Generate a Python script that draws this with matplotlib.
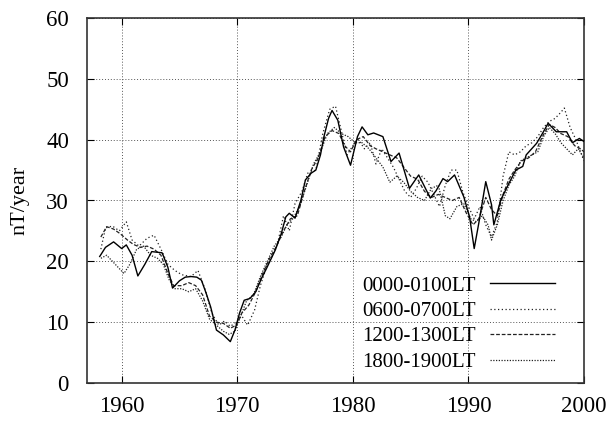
import matplotlib
matplotlib.use('Agg')
import matplotlib.pyplot as plt

plt.rcParams['font.family'] = ['Liberation Serif', 'DejaVu Serif']

# ── data ──
yr_a = [1958.1, 1958.6, 1959.3, 1960.0, 1960.4, 1960.9, 1961.4, 1962.0, 1962.6, 1963.5,
        1964.0, 1964.4, 1965.0, 1965.5, 1966.0, 1966.5, 1966.9, 1967.3, 1967.7, 1968.2,
        1968.8, 1969.4, 1969.8, 1970.2, 1970.6, 1971.1, 1971.6, 1972.1, 1972.6, 1973.3,
        1973.8, 1974.2, 1974.5, 1975.0, 1975.5, 1975.9, 1976.4, 1976.8, 1977.2, 1977.5,
        1977.9, 1978.2, 1978.7, 1979.2, 1979.8, 1980.4, 1980.8, 1981.3, 1981.8, 1982.6,
        1983.3, 1984.0, 1984.9, 1985.7, 1986.7, 1987.2, 1987.8, 1988.2, 1988.8, 1989.6,
        1990.1, 1990.5, 1990.9, 1991.5, 1992.0, 1992.2, 1992.8, 1993.5, 1994.1, 1994.7,
        1995.0, 1995.9, 1996.4, 1996.9, 1997.6, 1998.5, 1999.0, 1999.6, 2000.0]
lt00 = [20.8, 22.3, 23.2, 22.1, 22.7, 21.0, 17.6, 19.5, 21.6, 21.4,
        19.0, 15.6, 16.8, 17.4, 17.5, 17.4, 16.9, 14.8, 12.5, 8.7,
        7.9, 6.8, 8.7, 11.5, 13.6, 13.9, 15.0, 17.2, 19.1, 21.9,
        24.5, 27.3, 27.9, 27.1, 30.0, 33.4, 34.5, 35.0, 37.5, 40.5,
        43.5, 44.8, 43.2, 38.8, 35.8, 40.5, 42.1, 40.8, 41.1, 40.5,
        36.4, 37.8, 32.0, 34.2, 30.4, 31.6, 33.6, 33.1, 34.2, 30.6,
        27.3, 22.1, 26.3, 33.1, 29.3, 26.0, 30.1, 32.8, 35.0, 35.6,
        37.5, 39.4, 41.0, 42.7, 41.3, 41.3, 39.5, 40.2, 39.7]

yr_b = [1958.2, 1958.6, 1959.2, 1959.8, 1960.4, 1960.9, 1961.5, 1962.2, 1962.8, 1963.4,
        1964.0, 1964.6, 1965.2, 1966.0, 1966.6, 1967.2, 1967.8, 1968.4, 1968.9, 1969.4,
        1969.9, 1970.4, 1970.9, 1971.5, 1972.0, 1972.6, 1973.0, 1973.5, 1974.0, 1974.5,
        1975.0, 1975.6, 1976.1, 1976.8, 1977.4, 1978.0, 1978.5, 1979.0, 1979.5, 1980.0,
        1980.5, 1981.0, 1981.5, 1982.0, 1982.5, 1983.0, 1983.5, 1984.0, 1984.5, 1985.0,
        1985.5, 1986.0, 1986.5, 1987.0, 1987.5, 1988.0, 1988.5, 1989.0, 1989.5, 1990.0,
        1990.5, 1991.0, 1991.5, 1992.0, 1992.5, 1993.0, 1993.5, 1994.0, 1994.5, 1995.0,
        1995.5, 1996.0, 1996.5, 1997.0, 1997.5, 1998.0, 1998.3, 1998.8, 1999.3, 1999.7,
        2000.0]
lt06 = [22.0, 25.5, 25.8, 25.0, 26.5, 23.5, 22.5, 23.8, 24.3, 22.0,
        19.5, 18.5, 17.8, 17.5, 18.5, 15.5, 11.5, 9.5, 10.2, 9.3,
        10.0, 11.0, 9.5, 12.0, 16.0, 19.5, 20.8, 23.0, 27.5, 25.0,
        29.5, 31.5, 34.5, 35.0, 41.0, 45.0, 45.5, 41.5, 37.5, 39.0,
        40.0, 38.5, 39.5, 36.0, 38.5, 37.0, 35.5, 33.5, 31.5, 30.5,
        32.0, 34.0, 33.0, 31.0, 29.0, 32.5, 35.0, 35.0, 31.5, 29.0,
        27.0, 29.0, 26.0, 24.0, 26.5, 34.0, 38.0, 37.5, 38.0, 39.0,
        39.5, 40.5, 42.0, 43.0, 43.5, 44.5, 45.2, 42.0, 40.0, 38.0,
        36.5]

yr_c = [1958.2, 1958.7, 1959.3, 1959.9, 1960.5, 1961.0, 1961.6, 1962.2, 1962.8, 1963.4,
        1964.0, 1964.5, 1965.2, 1965.8, 1966.4, 1967.0, 1967.6, 1968.2, 1968.8, 1969.4,
        1969.9, 1970.4, 1971.0, 1971.6, 1972.2, 1972.8, 1973.4, 1974.0, 1974.6, 1975.2,
        1975.8, 1976.4, 1977.0, 1977.6, 1978.2, 1978.8, 1979.3, 1979.8, 1980.3, 1980.9,
        1981.5, 1982.0, 1982.6, 1983.2, 1983.8, 1984.4, 1985.0, 1985.6, 1986.2, 1986.8,
        1987.4, 1988.0, 1988.6, 1989.2, 1989.8, 1990.4, 1990.9, 1991.5, 1992.0, 1992.5,
        1993.0, 1993.5, 1994.0, 1994.6, 1995.2, 1995.8, 1996.4, 1997.0, 1997.5, 1998.0,
        1998.6, 1999.2, 1999.7, 2000.0]
lt12 = [24.0, 25.7, 25.3, 24.5, 23.5, 22.8, 22.3, 22.5, 22.0, 21.0,
        18.0, 16.0, 16.0, 16.5, 16.0, 14.5, 11.0, 10.0, 9.8, 9.0,
        9.5, 11.5, 12.8, 15.0, 18.0, 20.5, 22.5, 25.0, 27.0, 27.5,
        31.5, 35.0, 37.0, 40.5, 41.5, 41.0, 39.0, 38.0, 40.0, 40.5,
        39.0, 38.5, 38.0, 37.5, 37.0, 35.5, 34.0, 33.5, 31.5, 30.5,
        31.0, 30.5, 30.0, 30.5, 28.0, 26.0, 27.0, 30.5, 28.5, 27.5,
        31.0, 33.5, 35.0, 36.5, 37.0, 38.0, 40.5, 42.5, 42.0, 41.0,
        40.5, 39.0, 38.5, 38.0]

yr_d = [1958.2, 1958.7, 1959.2, 1959.7, 1960.2, 1960.7, 1961.3, 1961.9, 1962.5, 1963.1,
        1963.6, 1964.1, 1964.6, 1965.2, 1965.8, 1966.4, 1967.0, 1967.6, 1968.2, 1968.8,
        1969.3, 1969.8, 1970.3, 1970.8, 1971.4, 1972.0, 1972.6, 1973.2, 1973.8, 1974.3,
        1974.8, 1975.4, 1976.0, 1976.6, 1977.2, 1977.8, 1978.4, 1979.0, 1979.6, 1980.2,
        1980.8, 1981.4, 1982.0, 1982.6, 1983.2, 1983.8, 1984.4, 1985.0, 1985.6, 1986.2,
        1986.8, 1987.4, 1988.0, 1988.4, 1989.0, 1989.6, 1990.2, 1990.7, 1991.2, 1991.7,
        1992.0, 1992.5, 1993.0, 1993.5, 1994.0, 1994.5, 1995.0, 1995.5, 1996.0, 1996.5,
        1997.0, 1997.5, 1998.0, 1998.5, 1999.0, 1999.5, 2000.0]
lt18 = [20.5, 21.0, 20.0, 19.0, 18.0, 19.5, 22.0, 22.5, 21.0, 20.5,
        19.5, 17.0, 15.5, 15.5, 15.0, 15.5, 13.5, 10.5, 9.5, 8.5,
        8.0, 8.5, 11.0, 13.5, 14.5, 17.5, 20.0, 22.5, 24.0, 26.0,
        27.0, 29.0, 32.5, 36.0, 38.0, 41.0, 42.0, 41.0, 40.5, 39.5,
        39.5, 38.5, 37.0, 35.5, 33.0, 34.0, 33.0, 31.5, 30.5, 30.0,
        32.0, 32.5, 27.5, 27.0, 29.0, 29.5, 27.0, 26.5, 27.5, 26.0,
        23.5, 26.0, 30.0, 32.5, 34.0, 36.5, 37.0, 37.5, 38.0, 40.5,
        42.0, 41.0, 39.5, 38.5, 37.5, 38.5, 37.0]

labels = ['0000-0100LT', '0600-0700LT', '1200-1300LT', '1800-1900LT']
x_ticks = [1960, 1970, 1980, 1990, 2000]
y_ticks = [0, 10, 20, 30, 40, 50, 60]

fig = plt.figure(figsize=(6.11, 4.23), dpi=100)
ax = fig.add_axes([87 / 611, 40 / 423, 497 / 611, 365 / 423])

ax.plot(yr_a, lt00, color='black', lw=1.0, ls='-', label=labels[0], zorder=5)
ax.plot(yr_b, lt06, color='#222222', lw=0.9, ls=(0, (1, 2)), label=labels[1], zorder=4)
ax.plot(yr_c, lt12, color='#222222', lw=0.9, ls=(0, (3, 1.5)), label=labels[2], zorder=4)
ax.plot(yr_d, lt18, color='#222222', lw=0.9, ls=(0, (1, 1.2)), label=labels[3], zorder=4)

ax.set_xlim(1957, 2000)
ax.set_ylim(0, 60)
ax.set_xticks(x_ticks)
ax.set_yticks(y_ticks)
ax.tick_params(direction='in', length=5, width=0.8, top=True, right=True,
               labelsize=16.5, colors='black')
ax.tick_params(axis='y', pad=13)
ax.tick_params(axis='x', pad=9)
ax.grid(True, color='#555555', ls=(0, (1, 2)), lw=0.7)
for s in ax.spines.values():
    s.set_linewidth(1.2)
    s.set_color('#333333')
ax.set_ylabel('nT/year', fontsize=16, labelpad=12)

leg = ax.legend(loc='upper left', bbox_to_anchor=(362 / 611, 1 - 276 / 423),
                bbox_transform=fig.transFigure, frameon=False, markerfirst=False,
                fontsize=15, handlelength=3.1, handletextpad=0.7,
                labelspacing=0.28, borderpad=0, borderaxespad=0)
leg.set_zorder(10)

plt.savefig('out.png', dpi=100)
plt.close()
